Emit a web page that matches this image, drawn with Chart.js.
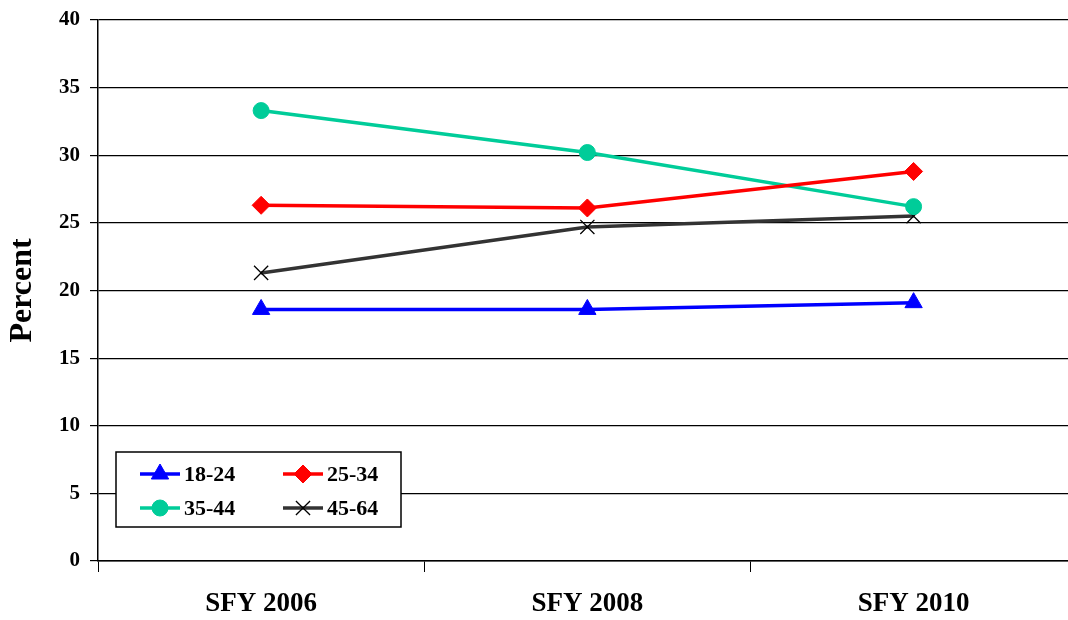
<!DOCTYPE html>
<html>
<head>
<meta charset="utf-8">
<script src="https://cdn.jsdelivr.net/npm/chart.js@4.4.1/dist/chart.umd.min.js"></script>
<style>
  html, body { margin: 0; padding: 0; background: #fff; overflow: hidden; }
  #wrap { position: relative; width: 1088px; height: 620px; }
</style>
</head>
<body>
<div id="wrap"><canvas id="chart" width="1088" height="620"></canvas></div>
<script>
// categories and series
var years = ['SFY 2006', 'SFY 2008', 'SFY 2010'];
var age18to24 = [18.6, 18.6, 19.1];
var age25to34 = [26.3, 26.1, 28.8];
var age35to44 = [33.3, 30.2, 26.2];
var age45to64 = [21.3, 24.7, 25.5];
var yTicks = [0, 5, 10, 15, 20, 25, 30, 35, 40];

var font = "'Liberation Serif', 'Times New Roman', serif";

// legend drawn inside the plot, boxed, two columns
var boxLegend = {
    id: 'boxLegend',
    afterDraw: function(chart) {
        var c = chart.ctx;
        var x0 = 116, y0 = 452, w = 285, h = 75;
        c.save();
        c.fillStyle = '#fff';
        c.fillRect(x0, y0, w, h);
        c.strokeStyle = '#000';
        c.lineWidth = 1.5;
        c.strokeRect(x0, y0, w, h);
        var spots = [[140, 474], [283, 474], [140, 508], [283, 508]];
        chart.data.datasets.forEach(function(ds, i) {
            var sx = spots[i][0], sy = spots[i][1];
            c.strokeStyle = ds.borderColor;
            c.lineWidth = ds.borderWidth;
            c.beginPath();
            c.moveTo(sx, sy);
            c.lineTo(sx + 40, sy);
            c.stroke();
            c.fillStyle = ds.pointBackgroundColor;
            c.strokeStyle = ds.pointBorderColor;
            c.lineWidth = ds.pointBorderWidth;
            Chart.helpers.drawPoint(c, {
                pointStyle: ds.pointStyle,
                radius: ds.pointRadius,
                borderWidth: ds.pointBorderWidth
            }, sx + 20, sy);
            c.fillStyle = '#000';
            c.font = 'bold 22px ' + font;
            c.textBaseline = 'middle';
            c.textAlign = 'left';
            c.fillText(ds.label, sx + 44, sy + 1);
        });
        c.restore();
    }
};

function mkSet(label, data, color, style, radius) {
    return {
        label: label,
        data: data,
        borderColor: color,
        backgroundColor: color,
        pointBackgroundColor: color,
        pointBorderColor: style === 'crossRot' ? '#000' : color,
        pointBorderWidth: style === 'crossRot' ? 1.3 : 1,
        borderWidth: 3.5,
        pointStyle: style,
        pointRadius: radius,
        tension: 0
    };
}

var ctx = document.getElementById('chart').getContext('2d');
var chart = new Chart(ctx, {
    type: 'line',
    data: {
        labels: years,
        datasets: [
            mkSet('18-24', age18to24, '#0000ff', 'triangle', 10),
            mkSet('25-34', age25to34, '#ff0000', 'rectRot', 9),
            mkSet('35-44', age35to44, '#00cc99', 'circle', 8),
            mkSet('45-64', age45to64, '#333333', 'crossRot', 10)
        ]
    },
    options: {
        responsive: false,
        animation: false,
        layout: { padding: { top: 17, right: 2, left: 0, bottom: 0 } },
        plugins: {
            legend: { display: false },
            tooltip: { enabled: false }
        },
        scales: {
            x: {
                offset: true,
                afterFit: function(s) { s.height = 59; },
                grid: {
                    offset: true,
                    drawOnChartArea: false,
                    drawTicks: true,
                    tickLength: 11,
                    color: '#000'
                },
                border: { color: '#000', width: 1.5 },
                ticks: {
                    color: '#000',
                    padding: 16,
                    font: { family: font, size: 27, weight: 'bold' }
                }
            },
            y: {
                min: 0,
                max: 40,
                afterFit: function(s) { s.width = 98; },
                afterBuildTicks: function(s) {
                    s.ticks = yTicks.map(function(v) { return { value: v }; });
                },
                grid: {
                    color: '#000',
                    lineWidth: 1.2,
                    tickLength: 8
                },
                border: { color: '#000', width: 1.5 },
                ticks: {
                    color: '#000',
                    padding: 10,
                    font: { family: font, size: 21, weight: 'bold', lineHeight: 0.95 }
                },
                title: {
                    display: true,
                    text: 'Percent',
                    color: '#000',
                    padding: { top: 4, bottom: 0 },
                    font: { family: font, size: 32, weight: 'bold' }
                }
            }
        }
    },
    plugins: [boxLegend]
});
</script>
</body>
</html>
